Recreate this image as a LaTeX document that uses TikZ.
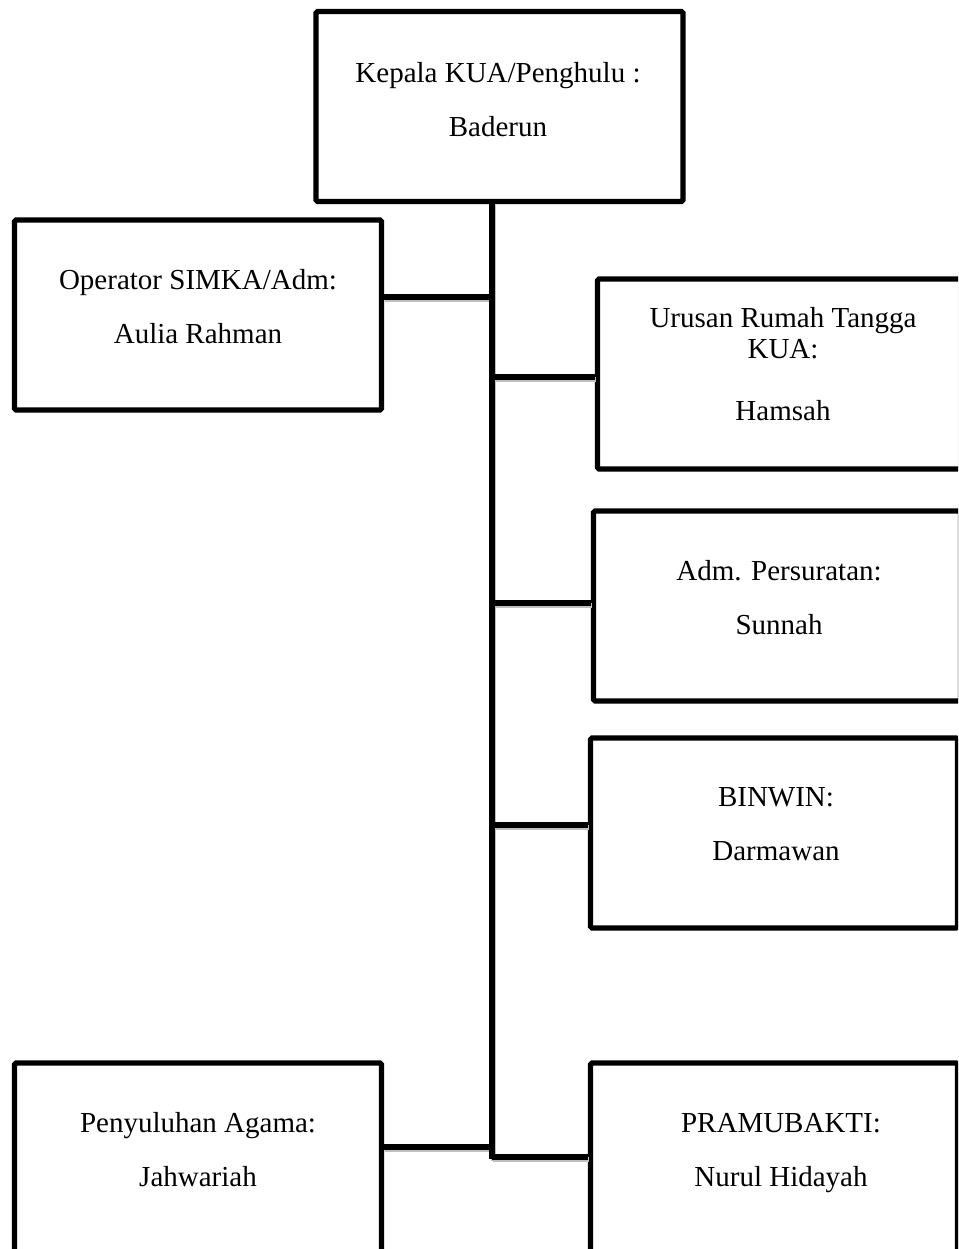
\documentclass[tikz,border=0pt]{standalone}
\usepackage{fontspec}
\setmainfont{Liberation Serif}
\usetikzlibrary{shadows}
\begin{document}
\begin{tikzpicture}[x=1pt,y=-1pt,
  box/.style={draw=black, line width=5.2pt, fill=white, rectangle, rounded corners=1.5pt,
    minimum width=367pt, minimum height=190pt, inner sep=0pt,
    drop shadow={opacity=0.25, shadow xshift=1.5pt, shadow yshift=-2pt, fill=black}},
  txt/.style={align=center, inner sep=0pt, font=\fontsize{29}{31}\selectfont},
  conn/.style={line width=5.2pt, preaction={draw=black!25, line width=5pt, transform canvas={shift={(1pt,-2pt)}}}}]
\useasboundingbox (0,0) rectangle (958,1249);
\clip (0,0) rectangle (958,1249);
\fill[white] (0,0) rectangle (958,1249);
% spine coordinates
\coordinate (s0) at (492,203);
\coordinate (j1) at (492,297);
\coordinate (j2) at (492,377);
\coordinate (j3) at (492,603);
\coordinate (j4) at (492,825);
\coordinate (j5) at (492,1147);
\coordinate (j6) at (492,1157);
\coordinate (s1) at (492,1159);
% spine (behind boxes)
\draw[conn] (s0) -- (s1);
% boxes
\node[box] (top) at (499.5,106.5) {};
\node[box] (op) at (198,315) {};
\node[box] (uru) at (781,374) {};
\node[box] (adm) at (777,606) {};
\node[box] (bin) at (774,833) {};
\node[box] (pen) at (198,1158) {};
\node[box] (pra) at (774,1158) {};
\draw[conn] (j1) -- (j1 -| op.east);
\draw[conn] (j2) -- (j2 -| uru.west);
\draw[conn] (j3) -- (j3 -| adm.west);
\draw[conn] (j4) -- (j4 -| bin.west);
\draw[conn] (j5) -- (j5 -| pen.east);
\draw[conn] (j6) -- (j6 -| pra.west);
\draw[line width=5.2pt] (s0) -- (s1);
% texts
\node[txt] (topt) at (498,100) {Kepala KUA/Penghulu :\\[23pt]Baderun};
\node[txt] (opt) at (198,307) {Operator SIMKA/Adm:\\[23pt]Aulia Rahman};
\node[txt] (urut) at (783,364) {Urusan Rumah Tangga\\KUA:\\[31pt]Hamsah};
\node[txt] (admt) at (779,598) {Adm. Persuratan:\\[23pt]Sunnah};
\node[txt] (bint) at (776,824) {BINWIN:\\[23pt]Darmawan};
\node[txt] (pent) at (198,1150) {Penyuluhan Agama:\\[23pt]Jahwariah};
\node[txt] (prat) at (781,1153) {PRAMUBAKTI:\\[23pt]Nurul Hidayah};
\end{tikzpicture}
\end{document}
